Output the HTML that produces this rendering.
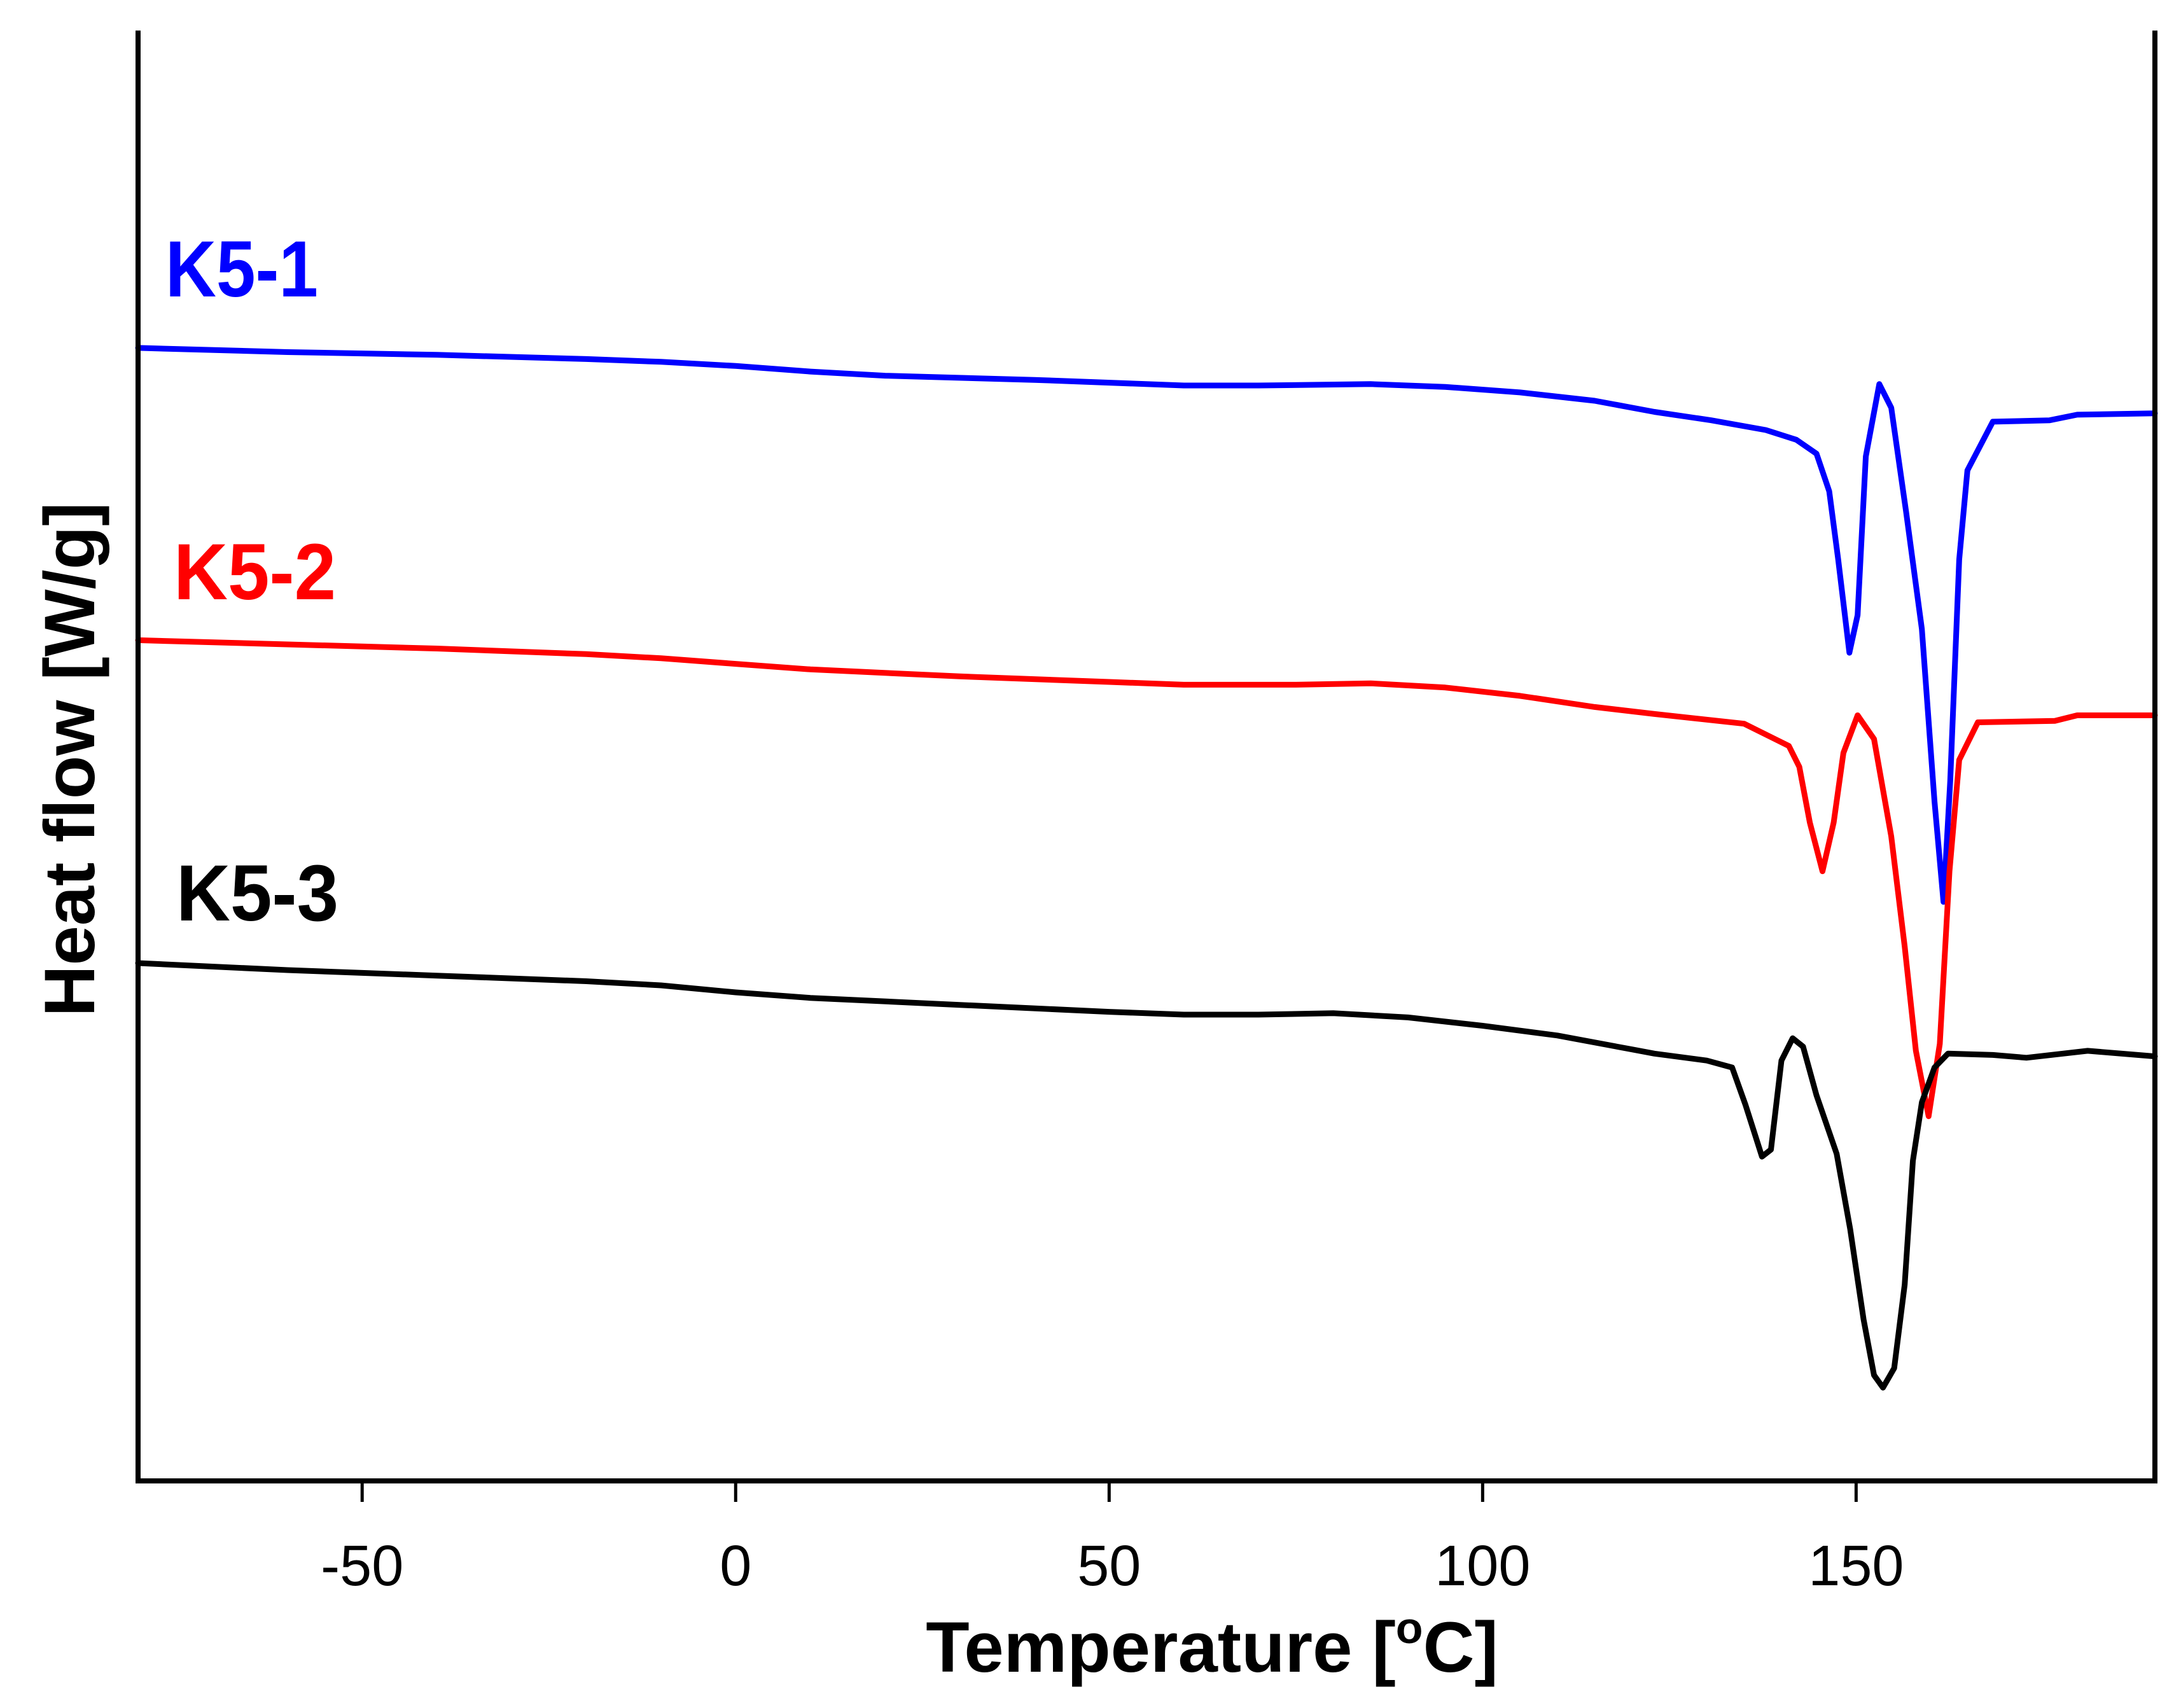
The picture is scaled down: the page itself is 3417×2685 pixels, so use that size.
<!DOCTYPE html>
<html><head><meta charset="utf-8"><style>
html,body{margin:0;padding:0;background:#fff;}
svg{display:block;}
text{font-family:"Liberation Sans",Arial,sans-serif;}
</style></head><body>
<svg id="chart" width="3417" height="2685" viewBox="0 0 3417 2685" xmlns="http://www.w3.org/2000/svg">
<rect x="0" y="0" width="3417" height="2685" fill="#fff"/>
<g id="series"></g>
<g id="axes"></g>
<text x="260" y="466" font-size="125" font-weight="bold" fill="#0000ff" textLength="240" lengthAdjust="spacingAndGlyphs">K5-1</text>
<text x="273" y="942" font-size="125" font-weight="bold" fill="#ff0000" textLength="255" lengthAdjust="spacingAndGlyphs">K5-2</text>
<text x="277" y="1447" font-size="125" font-weight="bold" fill="#000" textLength="255" lengthAdjust="spacingAndGlyphs">K5-3</text>
<text x="1905" y="2628" font-size="112" font-weight="bold" text-anchor="middle">Temperature [<tspan font-size="70" dy="-45">o</tspan><tspan dy="45">C]</tspan></text>
<text x="0" y="0" font-size="112" font-weight="bold" text-anchor="middle" transform="translate(148,1194) rotate(-90)">Heat flow [W/g]</text>
</svg>
<script>
// Temperatures (°C) and heat-flow signal (arbitrary offset units, larger = lower on chart)
const k51Temp = [-80,-60,-40,-20,-10,0,10,20,40,60,70,85,95,105,115,123,130.6,137.9,142,144.7,146.4,147.6,149.1,150.2,151.3,153.1,154.7,156.7,158.8,160.5,161.7,162.6,163.8,164.9,168.3,175.9,179.6,190];
const k51Flow = [250,253,255,258,260,263,267,270,273,277,277,276,278,282,288,296,302,309,316,326,353,402,469,442,328,276,293,368,452,576,648,561,402,338,303,302,298,297];
const k52Temp = [-80,-60,-40,-20,-10,0,10,30,50,60,75,85,95,105,115,123,135,141,142.4,143.8,145.5,147,148.3,150.2,152.4,154.7,156.5,158,159.7,161.2,162.5,163.8,166.3,176.6,179.6,190];
const k52Flow = [460,463,466,470,473,477,481,486,490,492,492,491,494,500,508,513,520,536,551,591,626,591,541,514,531,601,680,755,802,750,626,546,519,518,514,514];
const k53Temp = [-80,-60,-40,-20,-10,0,10,30,50,60,70,80,90,100,110,120,123,130,133.4,135.2,137.4,138.6,140,141.5,142.9,144.7,147.4,149.2,151,152.4,153.6,155.1,156.5,157.6,158.8,160.5,162.3,168.3,172.8,181,190];
const k53Flow = [692,697,701,705,708,713,717,722,727,729,729,728,731,737,744,754,757,762,767,794,831,826,762,746,752,787,829,883,948,988,997,983,923,834,792,767,757,758,760,755,759];
const xTicks = [-50,0,50,100,150];
const xTickLabels = ["-50","0","50","100","150"];

const NS="http://www.w3.org/2000/svg";
const L=217,R=3387,T=48,B=2328;
function xScale(t){return L+(t+80)*(R-L)/270;}
function yScale(v){return T+(v-22)*(B-T)/(1064-22);}
const series=document.getElementById('series');
function draw(temps,flows,color,name){
  const p=document.createElementNS(NS,'path');
  let d='';
  for(let i=0;i<temps.length;i++){d+=(i?'L':'M')+xScale(temps[i]).toFixed(1)+','+yScale(flows[i]).toFixed(1);}
  p.setAttribute('d',d);
  p.setAttribute('fill','none');
  p.setAttribute('stroke',color);
  p.setAttribute('stroke-width','9');
  p.setAttribute('stroke-linejoin','round');
  p.setAttribute('stroke-linecap','round');
  
  
  series.appendChild(p);
}
draw(k51Temp,k51Flow,'#0000ff','series-k5-1');
draw(k52Temp,k52Flow,'#ff0000','series-k5-2');
draw(k53Temp,k53Flow,'#000000','series-k5-3');

const axes=document.getElementById('axes');
const frame=document.createElementNS(NS,'path');
frame.setAttribute('d','M'+L+','+T+'L'+L+','+B+'L'+R+','+B+'L'+R+','+T);
frame.setAttribute('fill','none');
frame.setAttribute('stroke','#000');
frame.setAttribute('stroke-width','8');


axes.appendChild(frame);
xTicks.forEach((t,i)=>{
  const ln=document.createElementNS(NS,'line');
  ln.setAttribute('x1',xScale(t));ln.setAttribute('x2',xScale(t));
  ln.setAttribute('y1',B);ln.setAttribute('y2',B+33);
  ln.setAttribute('stroke','#000');ln.setAttribute('stroke-width','5');
  
  
  axes.appendChild(ln);
  const tx=document.createElementNS(NS,'text');
  tx.setAttribute('x',xScale(t));tx.setAttribute('y',2492);
  tx.setAttribute('font-size','90');tx.setAttribute('text-anchor','middle');
  tx.textContent=xTickLabels[i];
  
  
  axes.appendChild(tx);
});
</script>
</body></html>
